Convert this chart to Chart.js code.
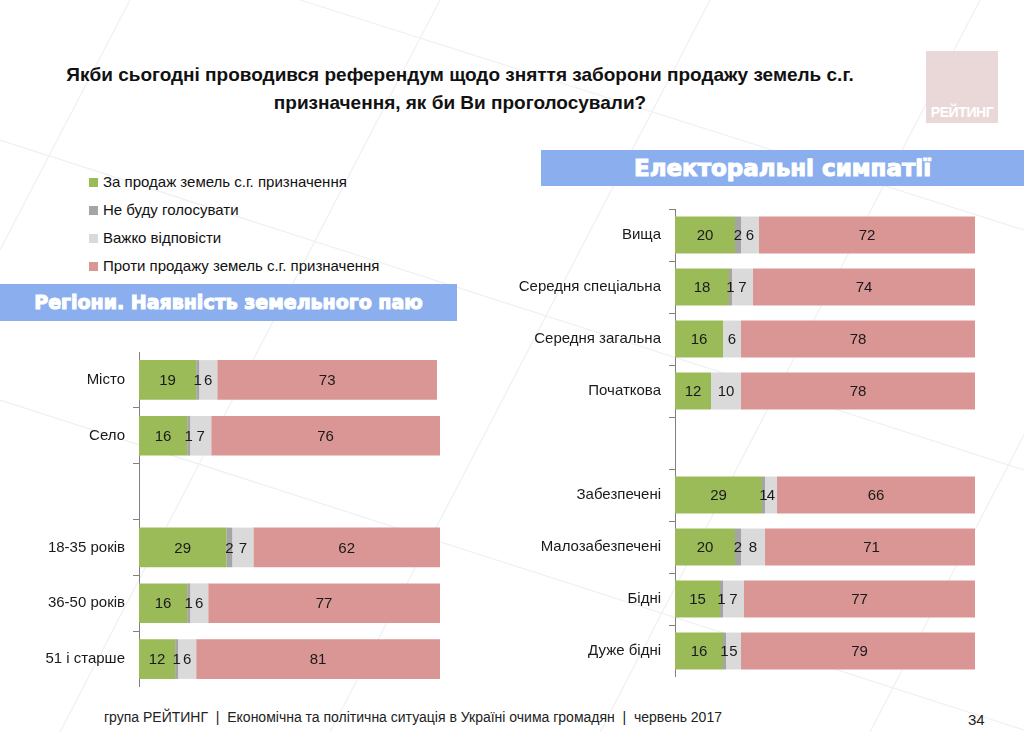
<!DOCTYPE html>
<html>
<head>
<meta charset="utf-8">
<script src="https://cdn.jsdelivr.net/npm/chart.js@4"></script>
<style>
  html, body { margin: 0; padding: 0; }
  body {
    width: 1024px; height: 732px; position: relative; overflow: hidden;
    background: #fff; font-family: "Liberation Sans", Arial, sans-serif; color: #111;
  }
  .title {
    position: absolute; left: 35px; top: 61px; width: 850px;
    text-align: center; font-weight: bold; font-size: 19px; line-height: 28px;
  }
  .logo {
    position: absolute; left: 926px; top: 51px; width: 72px; height: 72px;
    background: #ead8d8; color: #fff; font-weight: bold; font-size: 14px;
    text-align: center; box-sizing: border-box; padding-top: 53px; letter-spacing: -0.4px;
  }
  .band {
    position: absolute; background: #8aaeee; color: #fff; text-align: center;
    font-family: "DejaVu Sans", sans-serif; font-weight: bold;
    -webkit-text-stroke: 1.1px #fff;
  }
  #band1 { left: 0; top: 284px; width: 457px; height: 37px; line-height: 37px; font-size: 19px; }
  #band2 { left: 541px; top: 150px; width: 483px; height: 36px; line-height: 36px; font-size: 23px; }
  #legend { position: absolute; left: 89px; top: 172px; font-size: 15px; }
  #legend div { height: 28px; line-height: 20px; }
  #legend span.sw { display: inline-block; width: 9px; height: 9px; margin-right: 5px; vertical-align: 0px; }
  .box { position: absolute; }
  #leftBox { left: 0; top: 352px; width: 440px; height: 335px; }
  #rightBox { left: 500px; top: 209px; width: 475px; height: 468px; }
  .footer {
    position: absolute; left: 104px; top: 709px;
    font-family: "Liberation Sans Narrow", "Liberation Sans", sans-serif; font-size: 14px; color: #222;
  }
  .page { position: absolute; left: 968px; top: 711px; font-size: 15px; color: #222; }
</style>
</head>
<body>
<svg width="1024" height="732" style="position:absolute;left:0;top:0">
  <g stroke="#eef0f3" stroke-width="1.2" fill="none">
    <line x1="0" y1="250" x2="130" y2="0"/>
    <line x1="60" y1="732" x2="440" y2="0"/>
    <line x1="330" y1="732" x2="710" y2="0"/>
    <line x1="600" y1="732" x2="980" y2="0"/>
    <line x1="870" y1="732" x2="1024" y2="435"/>
    <line x1="0" y1="140" x2="1024" y2="470"/>
    <line x1="0" y1="400" x2="1024" y2="730"/>
    <line x1="300" y1="0" x2="1024" y2="230"/>
  </g>
</svg>

<div class="title">Якби сьогодні проводився референдум щодо зняття заборони продажу земель с.г.<br>призначення, як би Ви проголосували?</div>
<div class="logo">РЕЙТИНГ</div>

<div id="legend"></div>
<div class="band" id="band1">Регіони. Наявність земельного паю</div>
<div class="band" id="band2">Електоральні симпатії</div>

<div class="box" id="leftBox"><canvas id="leftChart"></canvas></div>
<div class="box" id="rightBox"><canvas id="rightChart"></canvas></div>

<div class="footer">група РЕЙТИНГ &nbsp;|&nbsp; Економічна та політична ситуація в Україні очима громадян &nbsp;|&nbsp; червень 2017</div>
<div class="page">34</div>

<script>
// series (answer options) and their colours
const seriesNames = [
  "За продаж земель с.г. призначення",
  "Не буду голосувати",
  "Важко відповісти",
  "Проти продажу земель с.г. призначення"
];
const seriesColors = ["#9bbb59", "#a5a5a5", "#dadada", "#d99694"];

// left chart: regions / age
const leftCategories = ["Місто", "Село", "", "18-35 років", "36-50 років", "51 і старше"];
const leftFor      = [19, 16, null, 29, 16, 12];
const leftNoVote   = [1, 1, null, 2, 1, 1];
const leftHard     = [6, 7, null, 7, 6, 6];
const leftAgainst  = [73, 76, null, 62, 77, 81];

// right chart: education / wealth
const rightCategories = ["Вища", "Середня спеціальна", "Середня загальна", "Початкова", "",
  "Забезпечені", "Малозабезпечені", "Бідні", "Дуже бідні"];
const rightFor     = [20, 18, 16, 12, null, 29, 20, 15, 16];
const rightNoVote  = [2, 1, 0, 0, null, 1, 2, 1, 1];
const rightHard    = [6, 7, 6, 10, null, 4, 8, 7, 5];
const rightAgainst = [72, 74, 78, 78, null, 66, 71, 77, 79];

// html legend
const legendEl = document.getElementById("legend");
seriesNames.forEach((name, i) => {
  const row = document.createElement("div");
  const sw = document.createElement("span");
  sw.className = "sw";
  sw.style.background = seriesColors[i];
  row.appendChild(sw);
  row.appendChild(document.createTextNode(name));
  legendEl.appendChild(row);
});

// draws the value in the middle of each bar segment
const valueLabels = {
  id: "valueLabels",
  afterDatasetsDraw(chart) {
    const ctx = chart.ctx;
    ctx.save();
    ctx.font = "15px 'Liberation Sans', Arial, sans-serif";
    ctx.fillStyle = "#1a1a1a";
    ctx.textAlign = "center";
    ctx.textBaseline = "middle";
    chart.data.datasets.forEach((ds, di) => {
      const meta = chart.getDatasetMeta(di);
      meta.data.forEach((bar, i) => {
        const v = ds.data[i];
        if (v == null || v === 0) return;
        const p = bar.getProps(["x", "y", "base"], true);
        ctx.fillText(String(v), (p.x + p.base) / 2, p.y + 1);
      });
    });
    ctx.restore();
  }
};

function makeChart(id, labels, values, axisWidth) {
  const datasets = values.map((data, i) => ({
    label: seriesNames[i],
    data: data,
    backgroundColor: seriesColors[i],
    borderWidth: 0,
    barPercentage: 0.71,
    categoryPercentage: 1
  }));
  return new Chart(document.getElementById(id), {
    type: "bar",
    data: { labels, datasets },
    plugins: [valueLabels],
    options: {
      indexAxis: "y",
      responsive: true,
      maintainAspectRatio: false,
      animation: false,
      layout: { padding: 0 },
      plugins: { legend: { display: false }, tooltip: { enabled: false } },
      scales: {
        x: { stacked: true, min: 0, max: 100, display: false },
        y: {
          stacked: true,
          z: 1,
          afterFit(scale) {
            scale.width = axisWidth;
            scale.paddingTop = 0;
            scale.paddingBottom = 0;
          },
          border: { display: true, color: "#7f7f7f", width: 1 },
          grid: { drawOnChartArea: false, offset: true, tickLength: 6, color: "#7f7f7f", lineWidth: 1 },
          ticks: {
            color: "#1a1a1a",
            padding: 8,
            font: { family: "'Liberation Sans', Arial, sans-serif", size: 15 }
          }
        }
      }
    }
  });
}

makeChart("leftChart", leftCategories, [leftFor, leftNoVote, leftHard, leftAgainst], 139);
makeChart("rightChart", rightCategories, [rightFor, rightNoVote, rightHard, rightAgainst], 175);
</script>
</body>
</html>
